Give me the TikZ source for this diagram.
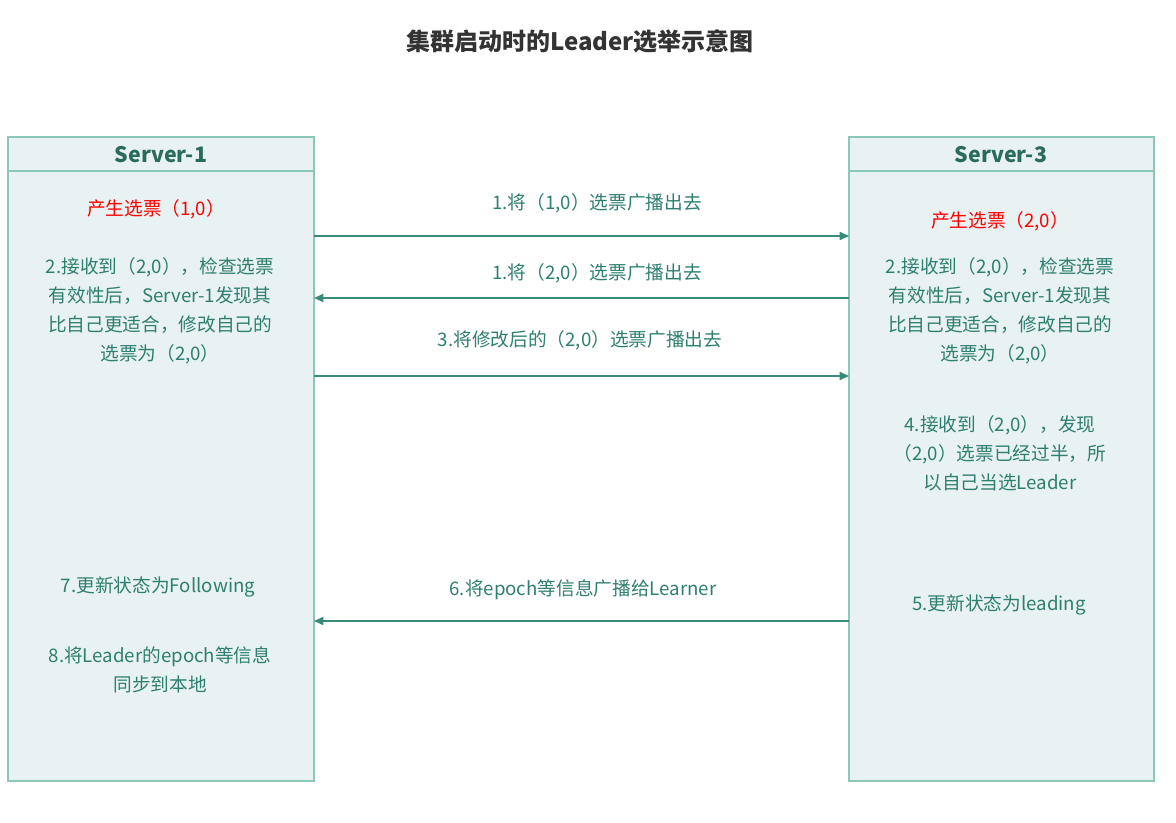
\documentclass[tikz,border=0pt]{standalone}
\usepackage{fontspec}
\setmainfont{Noto Sans CJK SC}
\usetikzlibrary{arrows.meta}
\definecolor{boxfill}{HTML}{E8F2F2}
\definecolor{boxline}{HTML}{8CC8B8}
\definecolor{txt}{HTML}{2E7F70}
\definecolor{hdr}{HTML}{2A6B5A}
\definecolor{arr}{HTML}{3A8A7A}
\definecolor{ttl}{HTML}{333333}
\tikzset{
  serverbox/.style={draw=boxline, fill=boxfill, line width=1.2pt},
  hdrtext/.style={font=\fontsize{16}{18}\selectfont\bfseries, text=hdr},
  body/.style={font=\fontsize{14}{21.75}\selectfont, text=txt, align=center},
  redtext/.style={font=\fontsize{14}{21.75}\selectfont, text=red},
  msg/.style={-{Triangle[length=7pt,width=6pt]}, draw=arr, line width=1.3pt},
}
\begin{document}
\begin{tikzpicture}[x=0.75pt,y=-0.75pt]
\useasboundingbox (0,0) rectangle (1176,823);
% title
\node[font=\fontsize{18}{20}\selectfont\bfseries, text=ttl] (title) at (580,41) {集群启动时的Leader选举示意图};
% boxes
\draw[serverbox] (8,137) rectangle (314,781);
\draw[serverbox] (8,171) -- (314,171);
\draw[serverbox] (849,137) rectangle (1154,781);
\draw[serverbox] (849,171) -- (1154,171);
\node[hdrtext] (h1) at (161,155) {Server-1};
\node[hdrtext] (h3) at (1001,155) {Server-3};
% lifeline anchors
\coordinate (L1) at (314,236); \coordinate (R1) at (849,236);
\coordinate (L2) at (314,298); \coordinate (R2) at (849,298);
\coordinate (L3) at (314,376); \coordinate (R3) at (849,376);
\coordinate (L4) at (314,621); \coordinate (R4) at (849,621);
% arrows
\draw[msg] (L1) -- (R1);
\draw[msg] (R2) -- (L2);
\draw[msg] (L3) -- (R3);
\draw[msg] (R4) -- (L4);
% arrow labels
\node[body] (m1) at (597,203) {1.将（1,0）选票广播出去};
\node[body] (m2) at (597,273) {1.将（2,0）选票广播出去};
\node[body] (m3) at (580,340) {3.将修改后的（2,0）选票广播出去};
\node[body] (m6) at (583,590) {6.将epoch等信息广播给Learner};
% left box texts
\node[redtext] (a1) at (156,209) {产生选票（1,0）};
\node[body] (a2) at (160,311) {2.接收到（2,0），检查选票\\有效性后，Server-1发现其\\比自己更适合，修改自己的\\选票为（2,0）};
\node[body] (a7) at (158,587) {7.更新状态为Following};
\node[body] (a8) at (160,670) {8.将Leader的epoch等信息\\同步到本地};
% right box texts
\node[redtext] (b1) at (1000,221) {产生选票（2,0）};
\node[body] (b2) at (1000,311) {2.接收到（2,0），检查选票\\有效性后，Server-1发现其\\比自己更适合，修改自己的\\选票为（2,0）};
\node[body] (b4) at (1000,453) {4.接收到（2,0），发现\\（2,0）选票已经过半，所\\以自己当选Leader};
\node[body] (b5) at (999,605) {5.更新状态为leading};
\end{tikzpicture}
\end{document}
